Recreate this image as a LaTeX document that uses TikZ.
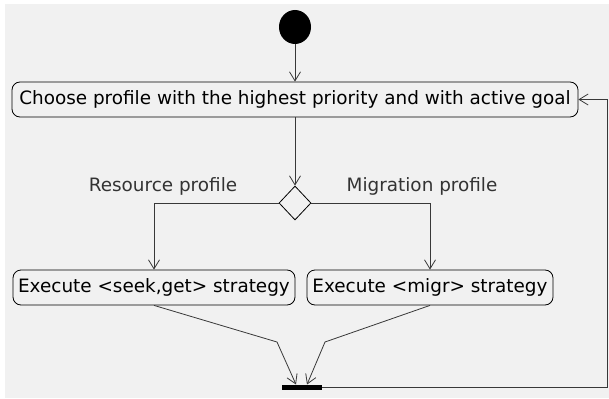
\documentclass[tikz,border=0pt]{standalone}
\usepackage{fontspec}
\setmainfont{DejaVu Sans}
\usetikzlibrary{arrows.meta,shapes.geometric}
\definecolor{bggray}{HTML}{F1F1F1}
\definecolor{linegray}{HTML}{383838}
\definecolor{labelgray}{HTML}{333333}
\tikzset{
  every node/.style={font=\fontsize{18.4}{22}\selectfont},
  act/.style={draw=black, rounded corners=8pt, fill=bggray, line width=0.8pt,
    minimum height=35pt, inner sep=2pt},
  arr/.style={draw=linegray, line width=0.8pt,
    -{Straight Barb[length=9pt,width=11pt,line width=0.8pt]}},
  guard/.style={text=labelgray},
}
\begin{document}
\begin{tikzpicture}[x=1pt,y=-1pt]
  \useasboundingbox (0,0) rectangle (609,398);
  \fill[bggray] (5,4) rectangle (609,398);

  % initial state
  \node[ellipse, fill=black, minimum width=32pt, minimum height=34pt, inner sep=0pt] (start) at (295,27) {};

  % choice of profile
  \node[act, minimum width=566pt] (choose) at (295,99.5)
    {Choose profile with the highest priority and with active goal};

  % decision
  \node[diamond, draw=black, fill=bggray, line width=0.8pt, minimum width=32pt,
    minimum height=34pt, inner sep=0pt] (dec) at (295,203) {};

  % strategies
  \node[act, minimum width=282pt] (seek) at (154,287.5) {Execute <seek,get> strategy};
  \node[act, minimum width=246pt] (migr) at (430,287.5) {Execute <migr> strategy};

  % join bar
  \node[fill=black, minimum width=40pt, minimum height=5pt, inner sep=0pt] (bar) at (302,387) {};

  % routing points
  \coordinate (lk) at (277,342);
  \coordinate (rk) at (325,342);
  \coordinate (lin) at (296,384.5);
  \coordinate (rin) at (307,384.5);
  \coordinate (loop) at (607,387);

  % guards
  \node[guard] (lres) at (163,186) {Resource profile};
  \node[guard] (lmig) at (422,186) {Migration profile};

  % flows
  \draw[arr] (start) -- (choose);
  \draw[arr] (choose) -- (dec);
  \draw[arr] (dec.west) -| (seek.north);
  \draw[arr] (dec.east) -| (migr.north);
  \draw[arr] (seek.south) -- (lk) -- (lin);
  \draw[arr] (migr.south) -- (rk) -- (rin);
  \draw[arr] (bar.east) -- (loop) |- (choose.east);
\end{tikzpicture}
\end{document}
